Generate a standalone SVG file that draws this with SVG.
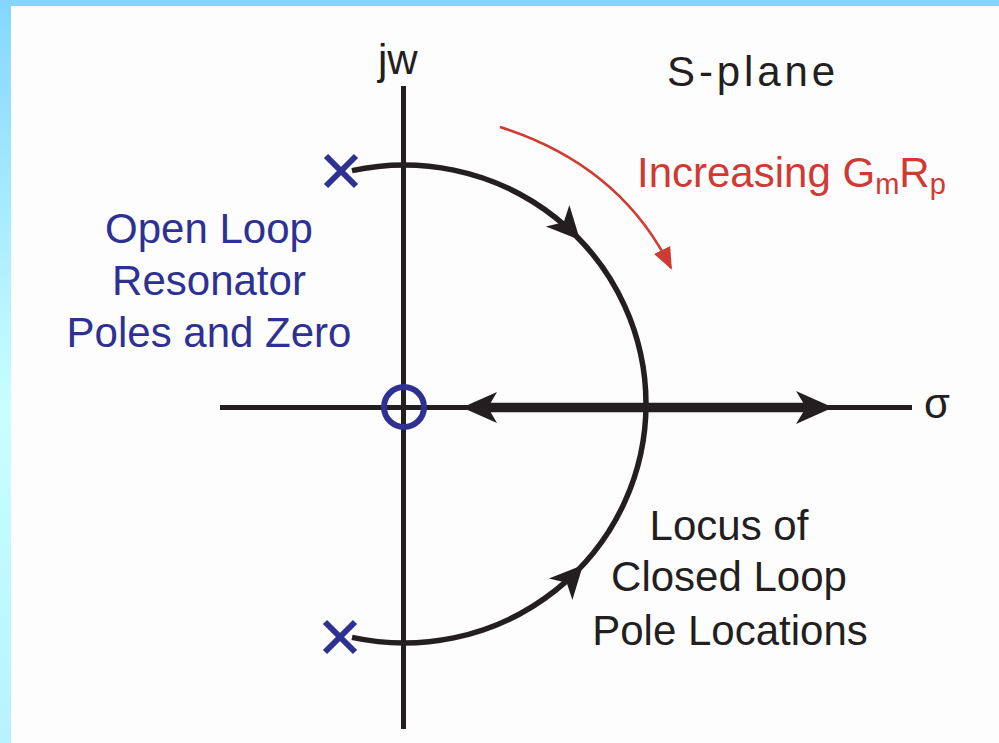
<svg xmlns="http://www.w3.org/2000/svg" width="999" height="743" viewBox="0 0 999 743">
<defs>
<linearGradient id="edge" x1="0" y1="0" x2="0" y2="1">
<stop offset="0" stop-color="#85d6ff"/>
<stop offset="0.55" stop-color="#c8ffff"/>
<stop offset="1" stop-color="#b6f3ff"/>
</linearGradient>
<path id="head" d="M0,0 L-33,-16 L-24,0 L-33,16 Z"/>
<marker id="redhead" viewBox="0 0 22 20" refX="20" refY="10" markerWidth="22" markerHeight="20" markerUnits="userSpaceOnUse" orient="auto">
<path d="M0,1 L22,10 L0,19 Z" fill="#cf3a33"/>
</marker>
</defs>
<style>
.t{font-family:"Liberation Sans",Arial,sans-serif;font-size:42px}
.blk{fill:#231f20}
.blu{fill:#2e3192}
.red{fill:#cf3a33}
.ax{stroke:#231f20;stroke-width:5;fill:none}
.loc{stroke:#231f20;stroke-width:5.5;fill:none}
.mk{stroke:#2e3192;stroke-width:6;fill:none}
.hd{fill:#231f20}
</style>
<rect width="999" height="743" fill="#fdfdfd"/>
<rect x="0" y="0" width="11" height="743" fill="url(#edge)"/>
<rect x="0" y="0" width="999" height="6" fill="#85d6ff"/>

<g id="axes">
<line class="ax" x1="403.5" y1="86" x2="403.5" y2="729"/>
<line class="ax" x1="220" y1="407.5" x2="912" y2="407.5"/>
<text class="t blk" x="378" y="74" font-size="39">jw</text>
<text class="t blk" x="924" y="418" font-size="38">σ</text>
</g>

<g id="connectors">
<path id="locus" class="loc" d="M352,170.6 A242,239 0 0 1 646,404 A242,239 0 0 1 352,637.4"/>
<use href="#head" class="hd" transform="translate(580,240) rotate(47.3)"/>
<use href="#head" class="hd" transform="translate(583,565) rotate(-47.3)"/>
<line stroke="#231f20" stroke-width="9.5" x1="485" y1="407.5" x2="815" y2="407.5"/>
<path class="hd" d="M462,407.5 L497,392 L488,407.5 L497,423 Z"/>
<path class="hd" d="M833,407.5 L796,391 L806,407.5 L796,424 Z"/>
<path d="M500,127 Q620,165 671,268" stroke="#cf3a33" stroke-width="2.5" fill="none" marker-end="url(#redhead)"/>
</g>

<g id="zero">
<circle class="mk" cx="404" cy="407" r="20"/>
</g>
<g id="pole-top">
<path class="mk" d="M326,156 L356,186 M356,156 L326,186"/>
</g>
<g id="pole-bottom">
<path class="mk" d="M325,622 L355,652 M355,622 L325,652"/>
</g>

<g id="label-open-loop">
<text class="t blu" text-anchor="middle" x="209" y="243">Open Loop</text>
<text class="t blu" text-anchor="middle" x="209" y="295">Resonator</text>
<text class="t blu" text-anchor="middle" x="209" y="347">Poles and Zero</text>
</g>
<g id="label-locus">
<text class="t blk" text-anchor="middle" x="729" y="540">Locus of</text>
<text class="t blk" text-anchor="middle" x="729" y="591">Closed Loop</text>
<text class="t blk" text-anchor="middle" x="730" y="645" font-size="43">Pole Locations</text>
</g>
<g id="label-splane">
<text class="t blk" x="667" y="86" font-size="45" textLength="168" lengthAdjust="spacing">S-plane</text>
</g>
<g id="label-increasing">
<text class="t red" x="637" y="187" font-size="43">Increasing G<tspan font-size="29" dy="7">m</tspan><tspan dy="-7">R</tspan><tspan font-size="29" dy="7">p</tspan></text>
</g>
</svg>
